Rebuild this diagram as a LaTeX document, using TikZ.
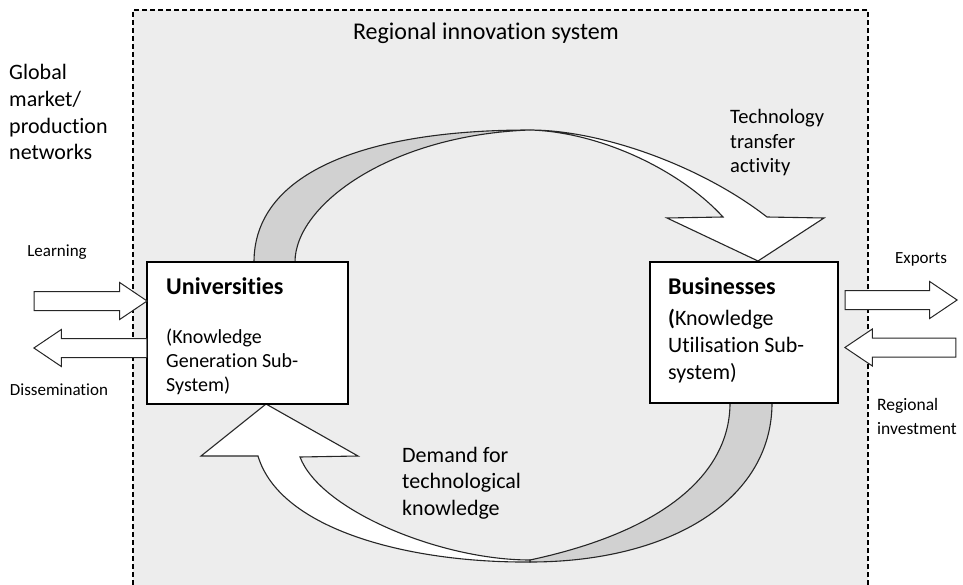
\documentclass[tikz,border=0pt]{standalone}
\usepackage{fontspec}
\setmainfont[Ligatures=NoCommon]{Carlito}
\usetikzlibrary{shapes.arrows}

\tikzset{
  sysbox/.style={draw, fill=white, line width=1.3pt, inner sep=0pt},
  band/.style={draw=black!85, line width=1.1pt, fill=black!18},
  ribbon/.style={draw=black!85, line width=1.1pt, fill=white},
  flow/.style={single arrow, draw=black!85, fill=white, line width=1pt,
    inner xsep=0pt, inner ysep=9pt, minimum width=36pt, anchor=tip,
    single arrow head extend=9pt, single arrow tip angle=68,
    single arrow head indent=0pt},
  lbl/.style={inner sep=0pt, anchor=base west, align=left},
  small/.style={inner sep=0pt, anchor=base, font=\fontsize{17}{20}\selectfont},
}

\begin{document}
\begin{tikzpicture}[x=1pt, y=-1pt]
  \useasboundingbox (0,0) rectangle (963,585);
  % regional innovation system
  \fill[black!7] (133,585) -- (133,10) -- (868,10) -- (868,585) -- cycle;
  \draw[dash pattern=on 5pt off 3pt, line width=1.2pt] (133,585) -- (133,10) -- (868,10) -- (868,585);
  \node[inner sep=0pt, anchor=base, font=\fontsize{24}{29}\selectfont] (ris) at (486,40) {Regional innovation system};

  % technology transfer (twisted ribbon)
  \draw[band] (254,262) .. controls (254,175) and (360,130) .. (530,130)
    .. controls (390,135) and (295,205) .. (295,262) -- cycle;
  \draw[ribbon] (530,130) .. controls (600,130) and (700,165) .. (767,217)
    -- (824,218) -- (758,261) -- (667,218) -- (723,217)
    .. controls (680,170) and (600,132) .. (530,130) -- cycle;
  % demand
  \draw[band] (772,403) .. controls (772,500) and (670,562) .. (530,562)
    -- (530,560) .. controls (670,530) and (730,470) .. (730,403) -- cycle;
  \draw[ribbon] (530,562) .. controls (410,563) and (280,530) .. (258,456)
    -- (201,456) -- (266,404) -- (358,456) -- (300,457)
    .. controls (320,510) and (440,560) .. (530,560) -- cycle;

  % sub-systems
  \node[sysbox, minimum width=201pt, minimum height=142pt] (uni) at (247.5,333) {};
  \node[sysbox, minimum width=188pt, minimum height=141pt] (bus) at (744,332.5) {};
  \node[lbl, font=\fontsize{24}{29}\selectfont\bfseries] (unihead) at (166,294) {Universities};
  \node[lbl, font=\fontsize{20}{24}\selectfont] (unibody) at (166,391) {(Knowledge\\Generation Sub-\\System)};
  \node[lbl, font=\fontsize{24}{29}\selectfont\bfseries] (bushead) at (668,294) {Businesses};
  \node[lbl, font=\fontsize{22}{27}\selectfont] (busbody) at (668,379) {\textbf{(}Knowledge\\Utilisation Sub-\\system)};

  % flows in and out
  \node[flow, minimum height=113pt] (learn) at (148,301) {};
  \node[flow, minimum height=113pt, shape border rotate=180] (dissem) at (33,348) {};
  \node[flow, minimum height=112pt] (export) at (958,300) {};
  \node[flow, minimum height=111pt, shape border rotate=180] (invest) at (844,347.5) {};

  % labels
  \node[lbl, font=\fontsize{22}{26.7}\selectfont] (global) at (9,160) {Global\\market/\\production\\networks};
  \node[lbl, font=\fontsize{20.5}{24.5}\selectfont] (ttlabel) at (730,173) {Technology\\transfer\\activity};
  \node[lbl, font=\fontsize{22}{26.5}\selectfont] (demand) at (402,515) {Demand for\\technological\\knowledge};
  \node[small] (learnlbl) at (57,257) {Learning};
  \node[small] (disslbl) at (59,395) {Dissemination};
  \node[small] (explbl) at (921,263) {Exports};
  \node[lbl, font=\fontsize{17.5}{24}\selectfont] (invlbl) at (877,434) {Regional\\investment};
\end{tikzpicture}
\end{document}
